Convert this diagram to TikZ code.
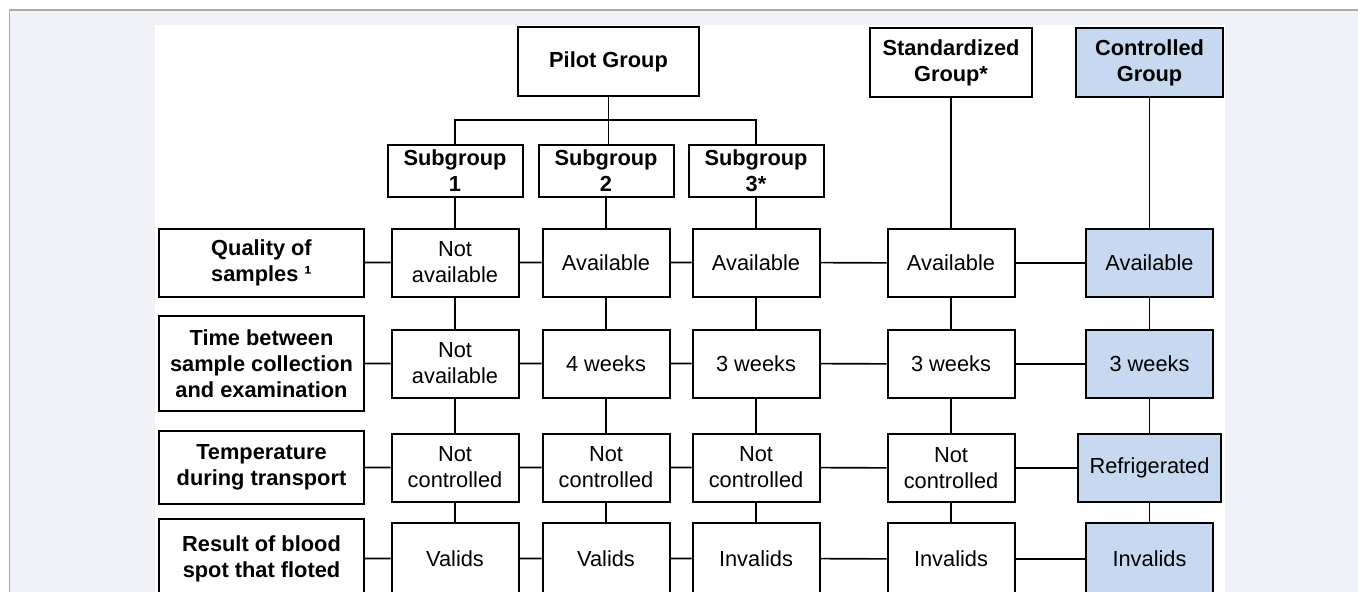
\documentclass[tikz,border=0pt]{standalone}
\usepackage{fontspec}
\setmainfont{Liberation Sans}
\usepackage{xcolor}
\usetikzlibrary{positioning}
\definecolor{pageGray}{RGB}{240,242,247}
\definecolor{frameGray}{RGB}{170,170,170}
\definecolor{ctrlBlue}{RGB}{198,217,241}
\tikzset{every node/.style = { font = \fontsize{21.8bp}{26bp}\selectfont }}

\begin{document}
\begin{tikzpicture}[x = 1bp, y = 1bp, line width = 1.6bp,
		box/.style  = { draw, line width = 2bp, fill = white, align = center, inner sep = 0pt, minimum height = 68bp },
		head/.style = { box, font = \fontsize{21.8bp}{26bp}\selectfont\bfseries },
		sub/.style  = { head, minimum width = 135bp, minimum height = 51bp },
		lab/.style  = { head, minimum width = 204bp },
		cell/.style = { box, minimum width = 127bp },
		ctrl/.style = { fill = ctrlBlue }]
		% page and panel
		\useasboundingbox (0,0) rectangle (1358,-592);
		\fill [pageGray] (9.5,-10) rectangle (1358,-592);
		\draw [frameGray, line width = 1.2bp] (1358,-10) -- (9.5,-10) -- (9.5,-592);
		\fill [white] (155,-25) rectangle (1225,-592);

		\node [head, minimum width = 181bp, minimum height = 69bp]       (p)  at (608.5,-61.5) {Pilot Group};
		\node [head, minimum width = 162bp, minimum height = 69bp]       (sg) at (951,-62.5)   {Standardized\\Group*};
		\node [head, ctrl, minimum width = 147bp, minimum height = 69bp] (cg) at (1149.5,-62.5) {Controlled\\Group};

		\node [sub] (s2) at (606,-171)      {Subgroup\\2};
		\node [sub, left = 14bp of s2]  (s1) {Subgroup\\1};
		\node [sub, right = 13bp of s2] (s3) {Subgroup\\3*};

		% quality of samples
		\node [cell, below = 30bp of s1]        (q1) {Not\\available};
		\node [cell, below = 30bp of s2]        (q2) {Available};
		\node [cell, below = 30bp of s3]        (q3) {Available};
		\node [cell, below = 130bp of sg]       (qS) {Available};
		\node [cell, ctrl, below = 130bp of cg] (qC) {Available};
		\node [lab, left = 26bp of q1]          (lq) {Quality of\\samples ¹};

		% time
		\node [cell, below = 31bp of q1]       (w1) {Not\\available};
		\node [cell, below = 31bp of q2]       (w2) {4 weeks};
		\node [cell, below = 31bp of q3]       (w3) {3 weeks};
		\node [cell, below = 31bp of qS]       (wS) {3 weeks};
		\node [cell, ctrl, below = 31bp of qC] (wC) {3 weeks};
		\node [lab, minimum height = 95bp, left = 26bp of w1] (lw) {Time between\\sample collection\\and examination};

		% temperature
		\node [cell, below = 34bp of w1] (t1) {Not\\controlled};
		\node [cell, below = 34bp of w2] (t2) {Not\\controlled};
		\node [cell, below = 34bp of w3] (t3) {Not\\controlled};
		\node [cell, below = 34bp of wS] (tS) {Not\\controlled};
		\node [cell, ctrl, minimum width = 143bp, below = 34bp of wC] (tC) {Refrigerated};
		\node [lab, minimum height = 73bp, left = 26bp of t1] (lt) {Temperature\\during transport};

		% result
		\node [cell, minimum height = 72bp, below = 19bp of t1]       (r1) {Valids};
		\node [cell, minimum height = 72bp, below = 19bp of t2]       (r2) {Valids};
		\node [cell, minimum height = 72bp, below = 19bp of t3]       (r3) {Invalids};
		\node [cell, minimum height = 72bp, below = 19bp of tS]       (rS) {Invalids};
		\node [cell, ctrl, minimum height = 72bp, below = 19bp of tC] (rC) {Invalids};
		\node [lab, minimum height = 80bp, left = 26bp of r1] (lr) {Result of blood\\spot that floted};

		\coordinate (fork) at ([yshift = -23bp]p.south);
		\draw (p.south) -- (p.south |- s2.north);
		\draw (s1) |- (fork) -| (s3);

		\draw (s1) -- (q1) -- (w1) -- (t1) -- (r1);
		\draw (s2) -- (q2) -- (w2) -- (t2) -- (r2);
		\draw (s3) -- (q3) -- (w3) -- (t3) -- (r3);
		\draw (sg) -- (qS) -- (wS) -- (tS) -- (rS);
		\draw (cg) -- (qC) -- (wC) -- (tC) -- (rC);

		\draw (lq) -- (q1) -- (q2) -- (q3) -- (qS) -- (qC);
		\draw (lw) -- (w1) -- (w2) -- (w3) -- (wS) -- (wC);
		\draw (lt) -- (t1) -- (t2) -- (t3) -- (tS) -- (tC);
		\draw (lr) -- (r1) -- (r2) -- (r3) -- (rS) -- (rC);
	\end{tikzpicture}
\end{document}
